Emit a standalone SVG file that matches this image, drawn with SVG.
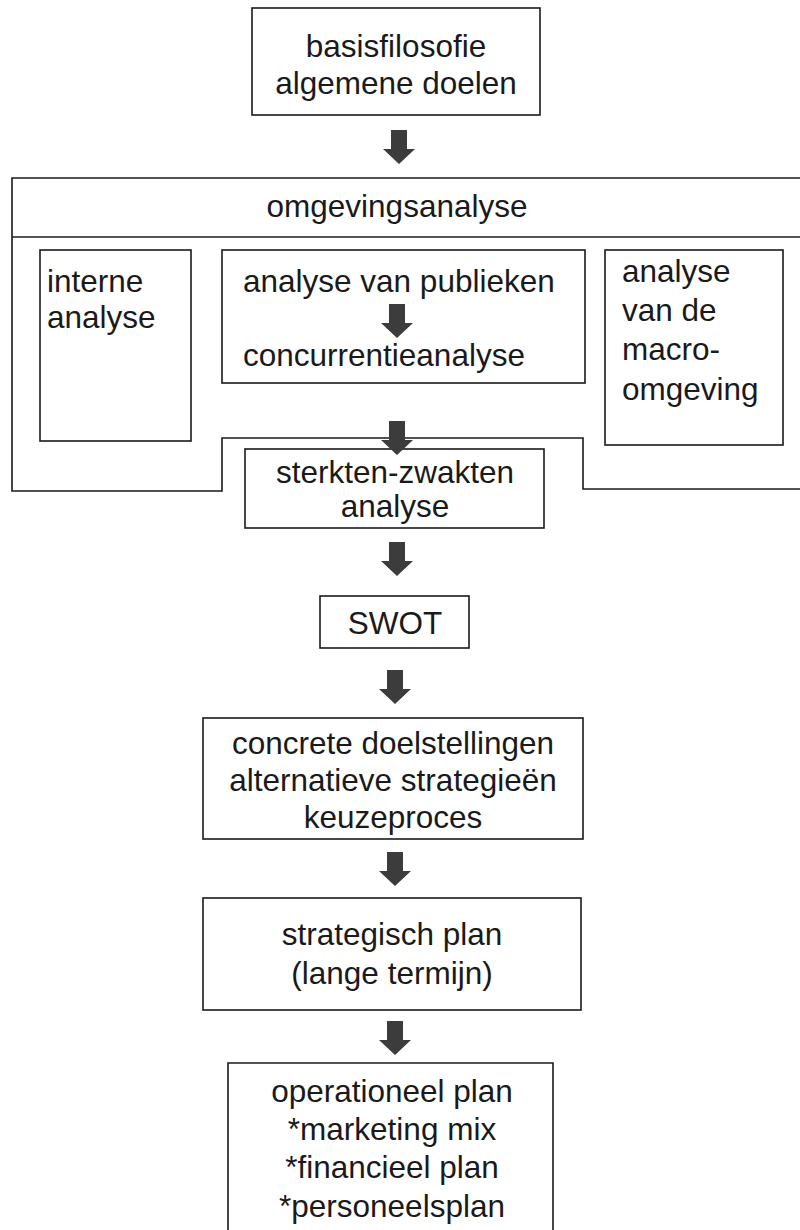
<svg xmlns="http://www.w3.org/2000/svg" width="800" height="1230" viewBox="0 0 800 1230">
<defs>
<style>
.box{fill:none;stroke:#1a1a1a;stroke-width:1.6}
.frame{fill:none;stroke:#1a1a1a;stroke-width:1.6}
.t{font-family:"Liberation Sans",Arial,sans-serif;font-size:31.5px;fill:#1a1a1a}
.c{text-anchor:middle}
.arr{fill:#3c3c3c}
</style>
<path id="ar" d="M -8 0 H 8 V 19 H 16 L 0 34 L -16 19 H -8 Z"/>
</defs>
<rect width="800" height="1230" fill="#ffffff"/>

<g id="frame-omgevingsanalyse">
<path class="frame" d="M 800 178 H 12 V 491 H 222 V 438 H 583 V 489 H 800"/>
<path class="frame" d="M 12 237 H 800"/>
<text class="t c" x="397" y="217">omgevingsanalyse</text>
</g>

<g id="node-basisfilosofie">
<rect class="box" x="252" y="8" width="288" height="107"/>
<text class="t c" x="396" y="57">basisfilosofie</text>
<text class="t c" x="396" y="94">algemene doelen</text>
</g>

<g id="node-interne">
<rect class="box" x="40" y="250" width="151" height="191"/>
<text class="t" x="47" y="292">interne</text>
<text class="t" x="47" y="328">analyse</text>
</g>

<g id="node-publieken">
<rect class="box" x="222" y="250" width="363" height="133"/>
<text class="t" x="243" y="292">analyse van publieken</text>
<text class="t" x="243" y="366">concurrentieanalyse</text>
</g>

<g id="node-macro">
<rect class="box" x="605" y="250" width="178" height="195"/>
<text class="t" x="622" y="282">analyse</text>
<text class="t" x="622" y="321">van de</text>
<text class="t" x="622" y="360">macro-</text>
<text class="t" x="622" y="400">omgeving</text>
</g>

<g id="node-sterkten">
<rect class="box" x="245" y="449" width="299" height="79"/>
<text class="t c" x="395" y="483">sterkten-zwakten</text>
<text class="t c" x="395" y="517">analyse</text>
</g>

<g id="node-swot">
<rect class="box" x="320" y="596" width="149" height="52"/>
<text class="t c" x="395" y="634">SWOT</text>
</g>

<g id="node-concreet">
<rect class="box" x="203" y="718" width="380" height="121"/>
<text class="t c" x="393" y="754">concrete doelstellingen</text>
<text class="t c" x="393" y="791">alternatieve strategieën</text>
<text class="t c" x="393" y="828">keuzeproces</text>
</g>

<g id="node-strategisch">
<rect class="box" x="203" y="898" width="378" height="112"/>
<text class="t c" x="392" y="945">strategisch plan</text>
<text class="t c" x="392" y="984">(lange termijn)</text>
</g>

<g id="node-operationeel">
<path class="box" d="M 228 1240 V 1063 H 553 V 1240"/>
<text class="t c" x="392" y="1102">operationeel plan</text>
<text class="t c" x="392" y="1140">*marketing mix</text>
<text class="t c" x="392" y="1178">*financieel plan</text>
<text class="t c" x="392" y="1217">*personeelsplan</text>
</g>

<g id="connectors" class="arr">
<use href="#ar" x="399" y="130"/>
<use href="#ar" x="397" y="304"/>
<use href="#ar" x="397" y="421"/>
<use href="#ar" x="397" y="542"/>
<use href="#ar" x="395" y="670"/>
<use href="#ar" x="395" y="852"/>
<use href="#ar" x="395" y="1021"/>
</g>
</svg>
